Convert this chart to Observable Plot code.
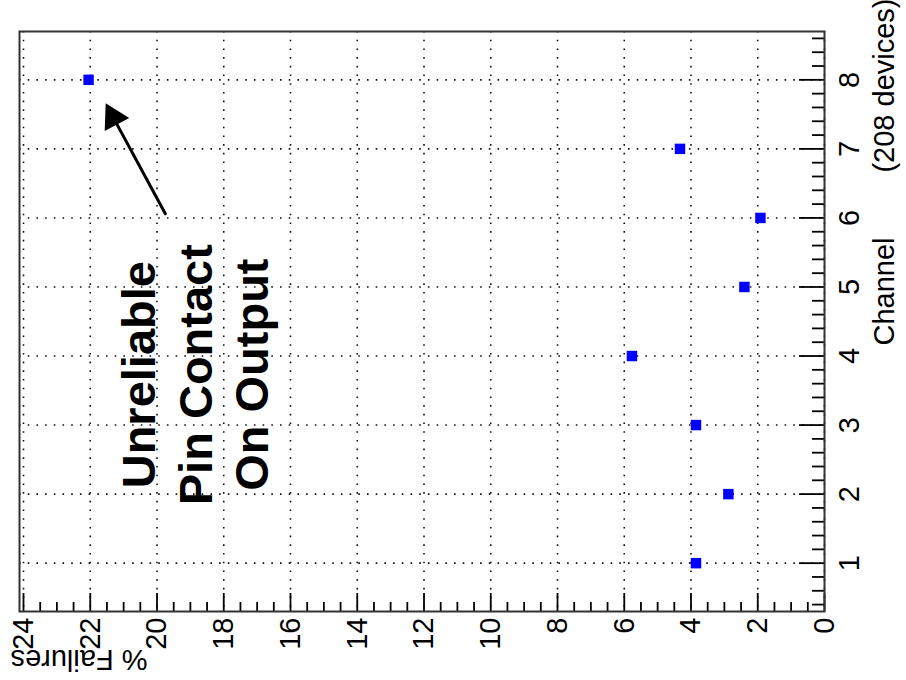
<!DOCTYPE html>
<html>
<head>
<meta charset="utf-8">
<script src="https://cdn.jsdelivr.net/npm/d3@7"></script>
<script src="https://cdn.jsdelivr.net/npm/@observablehq/plot@0.6"></script>
<style>
  html, body { margin: 0; padding: 0; background: #fff; }
  #chart svg { display: block; }
</style>
</head>
<body>
<div id="chart"></div>
<script>
// ---- data ----
const channels = [1, 2, 3, 4, 5, 6, 7, 8];
const failurePct = [3.85, 2.88, 3.85, 5.77, 2.40, 1.92, 4.33, 22.05];

// ---- tick labels ----
const pctTicks = [0, 2, 4, 6, 8, 10, 12, 14, 16, 18, 20, 22, 24];
const pctMinorTicks = [0.5, 1, 1.5, 2.5, 3, 3.5, 4.5, 5, 5.5, 6.5, 7, 7.5, 8.5, 9, 9.5,
  10.5, 11, 11.5, 12.5, 13, 13.5, 14.5, 15, 15.5, 16.5, 17, 17.5, 18.5, 19, 19.5,
  20.5, 21, 21.5, 22.5, 23, 23.5];
const channelTicks = [1, 2, 3, 4, 5, 6, 7, 8];
const channelMinorTicks = [0.4, 0.6, 0.8, 1.2, 1.4, 1.6, 1.8, 2.2, 2.4, 2.6, 2.8,
  3.2, 3.4, 3.6, 3.8, 4.2, 4.4, 4.6, 4.8, 5.2, 5.4, 5.6, 5.8, 6.2, 6.4, 6.6, 6.8,
  7.2, 7.4, 7.6, 7.8, 8.2, 8.4, 8.6];

// ---- texts ----
const pctTitle = ["% Failures"];
const channelTitle = ["Channel"];
const channelNote = ["(208 devices)"];
const noteLines = ["Unreliable", "Pin Contact", "On Output"];
const notePct = [18.91];
const noteChannel = [3.73];
const arrowFromPct = [19.75];
const arrowFromChannel = [6.06];
const arrowToPct = [21.54];
const arrowToChannel = [7.66];

const points = channels.map((c, i) => ({channel: c, pct: failurePct[i]}));
const note = [{pct: notePct[0], channel: noteChannel[0], text: noteLines.join("\n")}];
const arrow = [{x1: arrowFromPct[0], y1: arrowFromChannel[0], x2: arrowToPct[0], y2: arrowToChannel[0]}];

const FONT = "'Liberation Sans', Arial, Helvetica, sans-serif";
const gridStyle = {stroke: "#111", strokeOpacity: 1, strokeWidth: 1.6, strokeDasharray: "1.6,7.1"};
const intFormat = d => String(d);

const chart = Plot.plot({
  width: 906,
  height: 680,
  marginLeft: 19,
  marginRight: 82,
  marginTop: 31,
  marginBottom: 69,
  style: {background: "#fff", fontFamily: FONT, color: "#000", overflow: "visible"},
  x: {domain: [0, 24.12], reverse: true},
  y: {domain: [0.3, 8.7]},
  marks: [
    Plot.gridX(pctTicks, gridStyle),
    Plot.gridY(channelTicks, gridStyle),
    // bottom axis (% Failures): minor + major inward ticks, rotated labels
    Plot.axisX(pctMinorTicks, {anchor: "bottom", tickSize: -9, fill: "none", label: null, stroke: "#000", strokeWidth: 1.8}),
    Plot.axisX(pctTicks, {anchor: "bottom", tickSize: -18, fill: "none", label: null, stroke: "#000", strokeWidth: 1.8}),
    Plot.axisX(pctTicks, {anchor: "bottom", tickSize: 0, tickPadding: 6, tickRotate: -90, tickFormat: intFormat,
      textAnchor: "end", lineAnchor: "middle", fontSize: 29, label: null, fill: "#000"}),
    // right axis (Channel)
    Plot.axisY(channelMinorTicks, {anchor: "right", tickSize: -13, fill: "none", label: null, stroke: "#000", strokeWidth: 1.8}),
    Plot.axisY(channelTicks, {anchor: "right", tickSize: -26, fill: "none", label: null, stroke: "#000", strokeWidth: 1.8}),
    Plot.axisY(channelTicks, {anchor: "right", tickSize: 0, tickPadding: 14, tickRotate: -90, tickFormat: intFormat,
      textAnchor: "middle", lineAnchor: "top", fontSize: 29, label: null, fill: "#000"}),
    Plot.frame({stroke: "#333", strokeWidth: 2}),
    // axis titles
    Plot.text(pctTitle, {frameAnchor: "bottom-left", rotate: 180, textAnchor: "end", lineAnchor: "bottom",
      dx: -9, dy: 38, fontSize: 29, fill: "#000"}),
    Plot.text(channelNote, {frameAnchor: "top-right", rotate: -90, textAnchor: "end", lineAnchor: "top",
      dx: 49, dy: -33, fontSize: 29, fill: "#000"}),
    Plot.text(channelTitle, {frameAnchor: "top-right", rotate: -90, textAnchor: "start", lineAnchor: "top",
      dx: 49, dy: 314, fontSize: 29, fill: "#000"}),
    // data points
    Plot.dot(points, {x: "pct", y: "channel", symbol: "square", r: 5.9, fill: "#0000ff", stroke: "none"}),
    // annotation
    Plot.text(note, {x: "pct", y: "channel", text: "text", rotate: -90, textAnchor: "middle",
      lineAnchor: "middle", lineHeight: 1.21, fontSize: 47, fontWeight: "bold", fill: "#000"}),
    Plot.arrow(arrow, {x1: "x1", y1: "y1", x2: "x2", y2: "y2", stroke: "#000", strokeWidth: 3,
      headLength: 0, insetEnd: 14}),
    Plot.dot(arrow, {x: "x2", y: "y2", symbol: "triangle", r: 10.3, fill: "#000", stroke: "none",
      rotate: -28, dx: 7.6, dy: 14.1})
  ]
});
document.getElementById("chart").appendChild(chart);
</script>
</body>
</html>
